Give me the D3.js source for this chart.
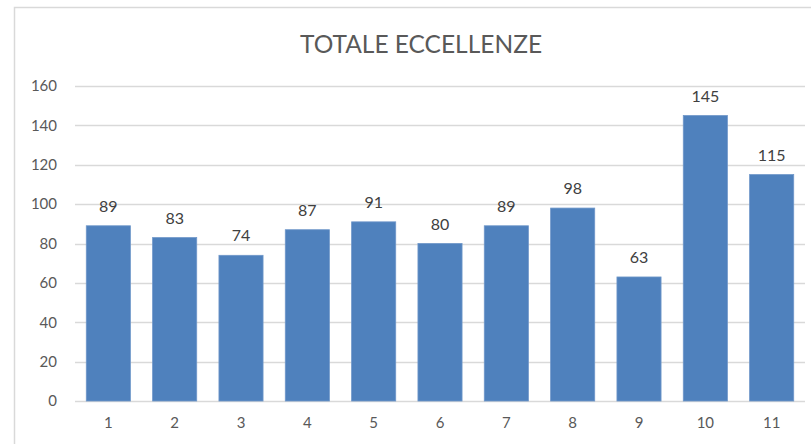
<!DOCTYPE html>
<html>
<head>
<meta charset="utf-8">
<script src="https://cdn.jsdelivr.net/npm/d3@7"></script>
<style>
  body { margin: 0; background: #fff; }
  text { font-family: Lato, "Open Sans", sans-serif; }
</style>
</head>
<body>
<div id="chart"></div>
<script>
var categories = ["1", "2", "3", "4", "5", "6", "7", "8", "9", "10", "11"];
var values = [89, 83, 74, 87, 91, 80, 89, 98, 63, 145, 115];
var yTicks = [0, 20, 40, 60, 80, 100, 120, 140, 160];

var width = 811, height = 444;
var margin = { top: 86, right: 6, bottom: 43, left: 75 };

var svg = d3.select("#chart")
    .append("svg")
    .attr("width", width)
    .attr("height", height);

// chart frame (only left and top visible in the crop)
svg.append("path")
    .attr("d", "M14.5," + height + "V7.5H" + width)
    .attr("fill", "none")
    .attr("stroke", "#d9d9d9")
    .attr("stroke-width", 1.5);

var x = d3.scaleBand()
    .domain(categories)
    .range([margin.left, width - margin.right])
    .paddingInner(0.335)
    .paddingOuter(0.17);

var y = d3.scaleLinear()
    .domain([0, 160])
    .range([height - margin.bottom, margin.top]);

// gridlines
svg.append("g")
    .selectAll("line")
    .data(yTicks)
    .enter()
    .append("line")
    .attr("x1", margin.left)
    .attr("x2", width - margin.right)
    .attr("y1", function (d) { return Math.round(y(d)) + 0.5; })
    .attr("y2", function (d) { return Math.round(y(d)) + 0.5; })
    .attr("stroke", "#d9d9d9")
    .attr("stroke-width", 1.3);

// y axis labels
var yAxis = svg.append("g")
    .attr("transform", "translate(" + (margin.left - 18) + ",0)")
    .call(d3.axisLeft(y).tickValues(yTicks).tickSize(0).tickPadding(0));
yAxis.select(".domain").remove();
yAxis.selectAll("text")
    .attr("font-size", "15px")
    .attr("fill", "#595959")
    .style("font-family", "Lato, 'Open Sans', sans-serif");

// x axis labels
var xAxis = svg.append("g")
    .attr("transform", "translate(0," + (height - margin.bottom) + ")")
    .call(d3.axisBottom(x).tickSize(0).tickPadding(16));
xAxis.select(".domain").remove();
xAxis.selectAll("text")
    .attr("font-size", "15px")
    .attr("fill", "#595959")
    .style("font-family", "Lato, 'Open Sans', sans-serif");

// bars
svg.append("g")
    .selectAll("rect")
    .data(values)
    .enter()
    .append("rect")
    .attr("x", function (d, i) { return x(categories[i]); })
    .attr("y", function (d) { return y(d); })
    .attr("width", x.bandwidth())
    .attr("height", function (d) { return y(0) - y(d); })
    .attr("fill", "#4f81bd")
    .attr("stroke", "#6f97c9")
    .attr("stroke-width", 0.8);

// value labels
svg.append("g")
    .selectAll("text")
    .data(values)
    .enter()
    .append("text")
    .attr("x", function (d, i) { return x(categories[i]) + x.bandwidth() / 2; })
    .attr("y", function (d) { return y(d) - 14; })
    .attr("text-anchor", "middle")
    .attr("font-size", "16px")
    .attr("fill", "#404040")
    .text(function (d) { return d; });

// title
svg.append("text")
    .attr("x", 421)
    .attr("y", 53)
    .attr("text-anchor", "middle")
    .attr("font-size", "24.5px")
    .attr("fill", "#595959")
    .text("TOTALE ECCELLENZE");
</script>
</body>
</html>
